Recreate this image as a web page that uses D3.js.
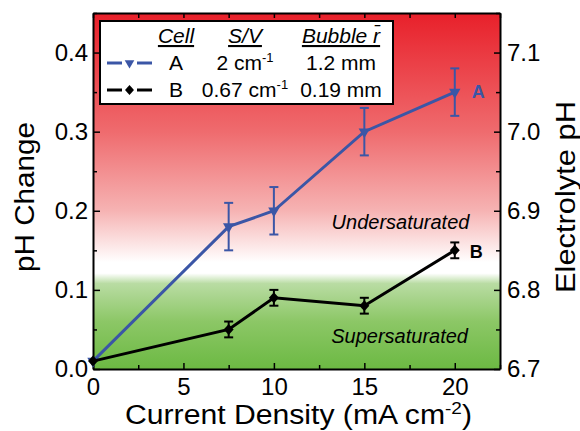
<!DOCTYPE html>
<html>
<head>
<meta charset="utf-8">
<script src="https://cdn.jsdelivr.net/npm/d3@7"></script>
<style>
  body { margin: 0; background: #fff; }
  text { font-family: "Liberation Sans", Arial, sans-serif; }
</style>
</head>
<body>
<div id="chart"></div>
<script>
// data
const current = [0, 7.5, 10, 15, 20];
const phA = [0.01, 0.18, 0.20, 0.30, 0.35];
const errA = [0, 0.03, 0.03, 0.03, 0.03];
const phB = [0.01, 0.05, 0.09, 0.08, 0.15];
const errB = [0, 0.01, 0.01, 0.01, 0.01];
const xTicks = [0, 5, 10, 15, 20];
const yTicks = [0.0, 0.1, 0.2, 0.3, 0.4];
const rightTicks = [6.7, 6.8, 6.9, 7.0, 7.1];

const W = 580, H = 431;
const margin = { top: 13, right: 80, bottom: 62, left: 93 };
const width = W - margin.left - margin.right,
      height = H - margin.top - margin.bottom;

const svg = d3.select("#chart").append("svg")
    .attr("width", W).attr("height", H);
const g = svg.append("g").attr("transform", `translate(${margin.left},${margin.top})`);

const x = d3.scaleLinear().domain([0, 22.5]).range([0, width]);
const y = d3.scaleLinear().domain([0, 0.45]).range([height, 0]);
const yR = d3.scaleLinear().domain([6.7, 7.15]).range([height, 0]);

// background gradient: red (undersaturated) -> white -> green (supersaturated)
const grad = svg.append("defs").append("linearGradient")
    .attr("id", "bg").attr("x1", 0).attr("y1", 0).attr("x2", 0).attr("y2", 1);
const stops = [
  [0.45, "#e8202a"], [0.30, "#ef6b6e"], [0.20, "#f6b3b3"],
  [0.135, "#ffffff"], [0.121, "#ffffff"], [0.108, "#b9dca3"],
  [0.06, "#8cc766"], [0.0, "#6cb943"]
];
stops.forEach(([v, c]) => grad.append("stop")
    .attr("offset", (1 - v / 0.45)).attr("stop-color", c));

g.append("rect").attr("width", width).attr("height", height).attr("fill", "url(#bg)");

// region labels
g.append("text").attr("x", x(17.0)).attr("y", y(0.177))
  .attr("text-anchor", "middle").style("font-style", "italic").style("font-size", "20px")
  .text("Undersaturated");
g.append("text").attr("x", x(16.95)).attr("y", y(0.033))
  .attr("text-anchor", "middle").style("font-style", "italic").style("font-size", "20px")
  .text("Supersaturated");

// axes
const isIn = (arr, d) => arr.some(t => Math.abs(t - d) < 1e-6);
const xMinor = d3.range(0, 22.5 + 0.001, 2.5);
const xAxisB = g.append("g").attr("transform", `translate(0,${height})`)
  .call(d3.axisBottom(x).tickValues(xMinor).tickSize(-6).tickSizeOuter(0).tickPadding(9)
    .tickFormat(d => isIn(xTicks, d) ? d : ""));
const xAxisT = g.append("g")
  .call(d3.axisTop(x).tickValues(xMinor).tickSize(-5).tickSizeOuter(0).tickFormat(""));
const yAxisL = g.append("g")
  .call(d3.axisLeft(y).tickValues(d3.range(0, 0.451, 0.05)).tickSize(-7).tickSizeOuter(0).tickPadding(5)
    .tickFormat(d => isIn(yTicks, d) ? d3.format(".1f")(d) : ""));
const yAxisR = g.append("g").attr("transform", `translate(${width},0)`)
  .call(d3.axisRight(yR).tickValues(d3.range(6.7, 7.151, 0.05)).tickSize(-6).tickSizeOuter(0).tickPadding(7)
    .tickFormat(d => isIn(rightTicks, d) ? d3.format(".1f")(d) : ""));

// minor ticks shorter
xAxisB.selectAll(".tick line").filter(d => !isIn(xTicks, d)).attr("y2", -4);
yAxisL.selectAll(".tick line").filter(d => !isIn(yTicks, d)).attr("x2", 4);
yAxisR.selectAll(".tick line").filter(d => !isIn(rightTicks, d)).attr("x2", -4);

g.selectAll(".domain").attr("stroke", "#000").attr("stroke-width", 2);
g.selectAll(".tick line").attr("stroke-width", 1.5);
g.selectAll(".tick text").style("font-size", "24px").attr("fill", "#000")
  .style("font-family", "'Liberation Sans', Arial, sans-serif");
xAxisB.selectAll(".tick text").attr("dy", "0.71em");

// axis titles
svg.append("text").attr("x", 298.5).attr("y", 424)
  .attr("text-anchor", "middle").style("font-size", "27px")
  .attr("textLength", 347).attr("lengthAdjust", "spacingAndGlyphs")
  .call(t => {
    t.append("tspan").text("Current Density (mA cm");
    t.append("tspan").attr("dy", -10).style("font-size", "17px").text("-2");
    t.append("tspan").attr("dy", 10).text(")");
  });
svg.append("text").attr("transform", `translate(34,197) rotate(-90)`)
  .attr("text-anchor", "middle").style("font-size", "27px")
  .attr("textLength", 150).attr("lengthAdjust", "spacingAndGlyphs").text("pH Change");
svg.append("text").attr("transform", `translate(575,197) rotate(-90)`)
  .attr("text-anchor", "middle").style("font-size", "27px")
  .attr("textLength", 192).attr("lengthAdjust", "spacingAndGlyphs").text("Electrolyte pH");

// markers
const diamondType = {
  draw(ctx, size) {
    const r = Math.sqrt(size) / 1.45;
    ctx.moveTo(0, -r * 1.1); ctx.lineTo(r, 0); ctx.lineTo(0, r * 1.1); ctx.lineTo(-r, 0); ctx.closePath();
  }
};
const symFor = (m, size) => d3.symbol().type(m === "tri" ? d3.symbolTriangle : diamondType).size(size);
const markTransform = (m, cx, cy) => `translate(${cx},${cy})` + (m === "tri" ? " rotate(180)" : "");

// series
const series = [
  { name: "A", vals: phA, err: errA, color: "#3b56a6", marker: "tri", size: 56, lab: [17, 6] },
  { name: "B", vals: phB, err: errB, color: "#000000", marker: "dia", size: 52, lab: [15, 8] }
];
const line = d3.line().x(d => x(d[0])).y(d => y(d[1]));

series.forEach(s => {
  const pts = current.map((c, i) => [c, s.vals[i], s.err[i]]);
  g.append("path").datum(pts).attr("d", line)
    .attr("fill", "none").attr("stroke", s.color).attr("stroke-width", 3);
  const eb = g.append("g");
  pts.filter(d => d[2] > 0).forEach(d => {
    const cx = x(d[0]), y0 = y(d[1] - d[2]), y1 = y(d[1] + d[2]);
    eb.append("line").attr("x1", cx).attr("x2", cx).attr("y1", y0).attr("y2", y1)
      .attr("stroke", s.color).attr("stroke-width", 2);
    [y0, y1].forEach(yy => eb.append("line").attr("x1", cx - 4.5).attr("x2", cx + 4.5)
      .attr("y1", yy).attr("y2", yy).attr("stroke", s.color).attr("stroke-width", 2));
  });
  g.selectAll(null).data(pts).join("path")
    .attr("transform", d => markTransform(s.marker, x(d[0]), y(d[1])))
    .attr("d", symFor(s.marker, s.size))
    .attr("fill", s.color);
  const last = pts[pts.length - 1];
  g.append("text").attr("x", x(last[0]) + s.lab[0]).attr("y", y(last[1]) + s.lab[1])
    .style("font-weight", "bold").style("font-size", "18px").attr("fill", s.color)
    .text(s.name);
});

// legend
const lg = svg.append("g");
lg.append("rect").attr("x", 100).attr("y", 21).attr("width", 293).attr("height", 83)
  .attr("fill", "#fff").attr("stroke", "#000").attr("stroke-width", 2);
const cols = [176, 245, 341];
const headers = ["Cell", "S/V", "Bubble r\u0304"];
headers.forEach((h, i) => lg.append("text").attr("x", cols[i]).attr("y", 43)
  .attr("text-anchor", "middle").style("font-style", "italic").style("font-size", "21px")
  .style("text-decoration", "underline").text(h));
const rows = [
  { name: "A", sv: "2 cm", r: "1.2 mm", color: "#3b56a6", marker: "tri", size: 40, y: 70 },
  { name: "B", sv: "0.67 cm", r: "0.19 mm", color: "#000000", marker: "dia", size: 42, y: 97 }
];
rows.forEach(r => {
  const ly = r.y - 7;
  [[107, 122], [137, 152]].forEach(([a, b]) => lg.append("line")
    .attr("x1", a).attr("x2", b).attr("y1", ly).attr("y2", ly)
    .attr("stroke", r.color).attr("stroke-width", 3));
  lg.append("path")
    .attr("transform", markTransform(r.marker, 129.5, ly))
    .attr("d", symFor(r.marker, r.size)).attr("fill", r.color);
  lg.append("text").attr("x", cols[0]).attr("y", r.y).attr("text-anchor", "middle")
    .style("font-size", "21px").text(r.name);
  lg.append("text").attr("x", cols[1]).attr("y", r.y).attr("text-anchor", "middle")
    .style("font-size", "21px")
    .call(t => {
      t.append("tspan").text(r.sv);
      t.append("tspan").attr("dy", -8).style("font-size", "13px").text("-1");
    });
  lg.append("text").attr("x", cols[2]).attr("y", r.y).attr("text-anchor", "middle")
    .style("font-size", "21px").text(r.r);
});
</script>
</body>
</html>
